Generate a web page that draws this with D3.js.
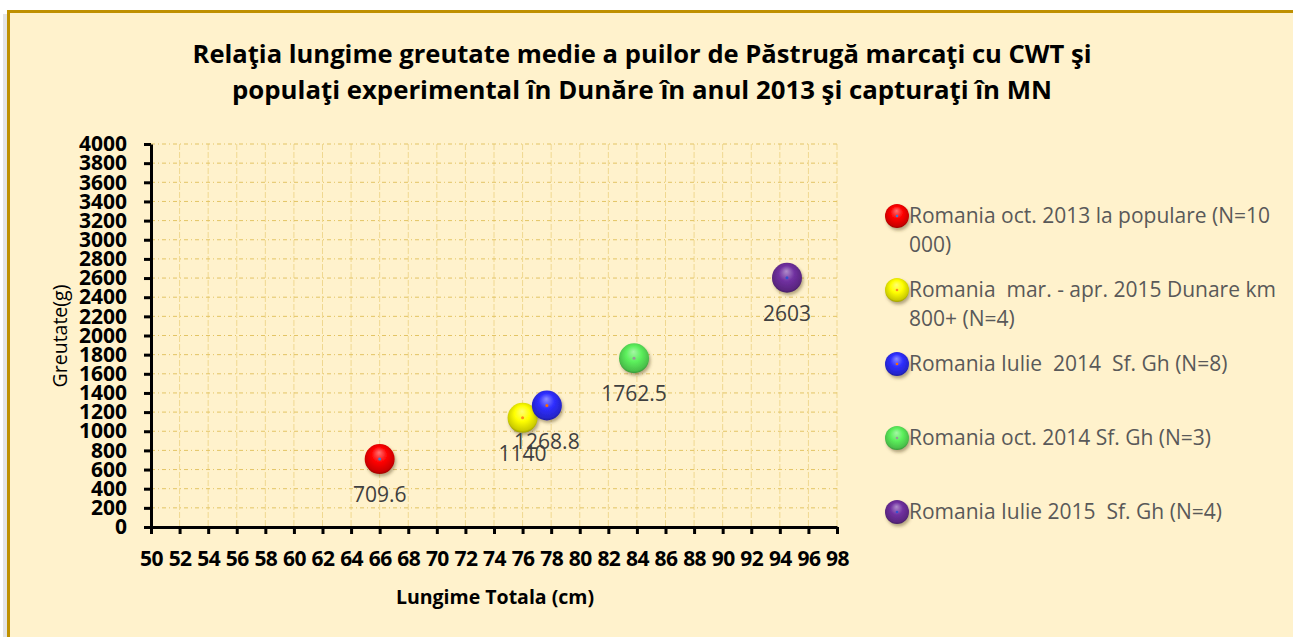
<!DOCTYPE html>
<html>
<head>
<meta charset="utf-8">
<script src="https://cdn.jsdelivr.net/npm/d3@7"></script>
<style>
  html, body { margin: 0; padding: 0; background: #fff; overflow: hidden; }
  svg { display: block; }
</style>
</head>
<body>
<script>
const width = 1293;
const height = 637;
const plot = { l: 151, r: 837, t: 144, b: 527 };

// values
const seriesNames = [
  "Romania oct. 2013 la populare (N=10\n000)",
  "Romania  mar. - apr. 2015 Dunare km\n800+ (N=4)",
  "Romania Iulie  2014  Sf. Gh (N=8)",
  "Romania oct. 2014 Sf. Gh (N=3)",
  "Romania Iulie 2015  Sf. Gh (N=4)",
];
const lengths = [66, 76, 77.7, 83.8, 94.5];
const weights = [709.6, 1140, 1268.8, 1762.5, 2603];
const valueLabels = ["709.6", "1140", "1268.8", "1762.5", "2603"];
const xTicks = d3.range(50, 99, 2);
const yTicks = d3.range(0, 4001, 200);
const titleLines = [
  "Relaţia lungime greutate medie a puilor de Păstrugă marcaţi cu CWT şi",
  "populaţi experimental în Dunăre în anul 2013 şi capturaţi în MN",
];

const bubbleColors = ["#ff0000", "#ffff00", "#2e2eff", "#5cf05c", "#7030a0"];
const dotColors = ["#3a7bd5", "#ff8c1a", "#ff6a00", "#999999", "#3050d0"];
const font = "'Open Sans', 'Noto Sans', sans-serif";

const svg = d3.select("body")
  .append("svg")
  .attr("width", width)
  .attr("height", height)
  .style("font-family", font);

const defs = svg.append("defs");

const ballShadow = defs.append("filter").attr("id", "ballShadow")
  .attr("x", "-50%").attr("y", "-50%").attr("width", "200%").attr("height", "200%");
ballShadow.append("feDropShadow")
  .attr("dx", 1.5).attr("dy", 2.5).attr("stdDeviation", 1.8)
  .attr("flood-color", "#5a4a20").attr("flood-opacity", 0.45);

bubbleColors.forEach((c, i) => {
  const g = defs.append("radialGradient")
    .attr("id", "ball" + i)
    .attr("cx", "50%").attr("cy", "45%").attr("r", "58%")
    .attr("fx", "48%").attr("fy", "28%");
  g.append("stop").attr("offset", "0%").attr("stop-color", d3.interpolateRgb(c, "#fff")(0.45));
  g.append("stop").attr("offset", "45%").attr("stop-color", c);
  g.append("stop").attr("offset", "85%").attr("stop-color", d3.interpolateRgb(c, "#000")(0.2));
  g.append("stop").attr("offset", "100%").attr("stop-color", d3.interpolateRgb(c, "#000")(0.45));
});

// soft shadow left of the frame
svg.append("rect")
  .attr("x", 3).attr("y", 14).attr("width", 5).attr("height", height)
  .attr("fill", "#e4e4e4");

// chart frame (runs past the right and bottom edges)
svg.append("rect")
  .attr("x", 8.5).attr("y", 11.5)
  .attr("width", width + 40).attr("height", height + 40)
  .attr("fill", "#fff2cc")
  .attr("stroke", "#bf9000")
  .attr("stroke-width", 3);

// title
const titleWidths = [899, 820];
svg.append("g").selectAll("text")
  .data(titleLines)
  .join("text")
  .attr("x", 642)
  .attr("y", (d, i) => 63 + i * 36)
  .attr("text-anchor", "middle")
  .attr("font-size", 25)
  .attr("font-weight", "bold")
  .attr("fill", "#000")
  .attr("textLength", (d, i) => titleWidths[i])
  .attr("lengthAdjust", "spacingAndGlyphs")
  .text(d => d);

const x = d3.scaleLinear().domain([50, 98]).range([plot.l, plot.r]);
const y = d3.scaleLinear().domain([0, 4000]).range([plot.b, plot.t]);

// grid
const grid = svg.append("g");
grid.selectAll("line.v")
  .data(xTicks.slice(1))
  .join("line")
  .attr("class", "v")
  .attr("x1", d => x(d)).attr("x2", d => x(d))
  .attr("y1", plot.t).attr("y2", plot.b)
  .attr("stroke", "#f0d890")
  .attr("stroke-width", 1)
  .attr("stroke-dasharray", "6,2");
grid.selectAll("line.h")
  .data(yTicks.slice(1))
  .join("line")
  .attr("class", "h")
  .attr("x1", plot.l).attr("x2", plot.r)
  .attr("y1", d => y(d)).attr("y2", d => y(d))
  .attr("stroke", "#e3c464")
  .attr("stroke-width", 1)
  .attr("stroke-dasharray", "4,3,1,3");

// axes
const yAxis = svg.append("g")
  .attr("transform", `translate(${plot.l},0)`)
  .call(d3.axisLeft(y).tickValues(yTicks).tickFormat(d3.format("d"))
    .tickSize(7).tickPadding(17).tickSizeOuter(0));
const xAxis = svg.append("g")
  .attr("transform", `translate(0,${plot.b})`)
  .call(d3.axisBottom(x).tickValues(xTicks).tickFormat(d3.format("d"))
    .tickSize(7).tickPadding(17).tickSizeOuter(0));

[xAxis, yAxis].forEach(a => {
  a.select(".domain").attr("stroke", "#000").attr("stroke-width", 3);
  a.selectAll(".tick line").attr("stroke", "#000").attr("stroke-width", 3);
  a.selectAll(".tick text")
    .attr("font-family", font)
    .attr("font-size", 21)
    .attr("font-weight", "bold")
    .attr("fill", "#000");
});
xAxis.selectAll(".tick text").attr("letter-spacing", -0.6);

// axis titles
svg.append("text")
  .attr("x", 495).attr("y", 604)
  .attr("text-anchor", "middle")
  .attr("font-size", 19.5)
  .attr("font-weight", "bold")
  .attr("fill", "#000")
  .text("Lungime Totala (cm)");

svg.append("text")
  .attr("transform", "translate(67,336) rotate(-90)")
  .attr("text-anchor", "middle")
  .attr("font-size", 19.5)
  .attr("fill", "#000")
  .text("Greutate(g)");

// bubbles
const points = lengths.map((l, i) => ({ l, w: weights[i], i }));
const balls = svg.append("g").selectAll("g")
  .data(points)
  .join("g")
  .attr("transform", d => `translate(${x(d.l)},${y(d.w)})`);
balls.append("circle")
  .attr("r", 15)
  .attr("fill", d => `url(#ball${d.i})`)
  .attr("filter", "url(#ballShadow)");
balls.append("circle")
  .attr("r", 1.5)
  .attr("fill", d => dotColors[d.i]);

// value labels
svg.append("g").selectAll("text")
  .data(points)
  .join("text")
  .attr("x", d => x(d.l))
  .attr("y", d => y(d.w) + 43)
  .attr("text-anchor", "middle")
  .attr("font-size", 21)
  .attr("fill", "#404040")
  .text(d => valueLabels[d.i]);

// legend
const legend = svg.append("g");
const rows = legend.selectAll("g")
  .data(seriesNames)
  .join("g")
  .attr("transform", (d, i) => `translate(897,${216 + i * 74})`);
rows.append("circle")
  .attr("r", 12)
  .attr("fill", (d, i) => `url(#ball${i})`)
  .attr("filter", "url(#ballShadow)");
rows.append("circle")
  .attr("r", 1.3)
  .attr("fill", (d, i) => dotColors[i]);
rows.append("text")
  .attr("x", 12)
  .attr("y", 7)
  .attr("font-size", 21)
  .attr("fill", "#595959")
  .style("white-space", "pre")
  .selectAll("tspan")
  .data(d => d.split("\n"))
  .join("tspan")
  .attr("x", 12)
  .attr("dy", (d, i) => (i ? 29 : 0))
  .text(d => d);
</script>
</body>
</html>
